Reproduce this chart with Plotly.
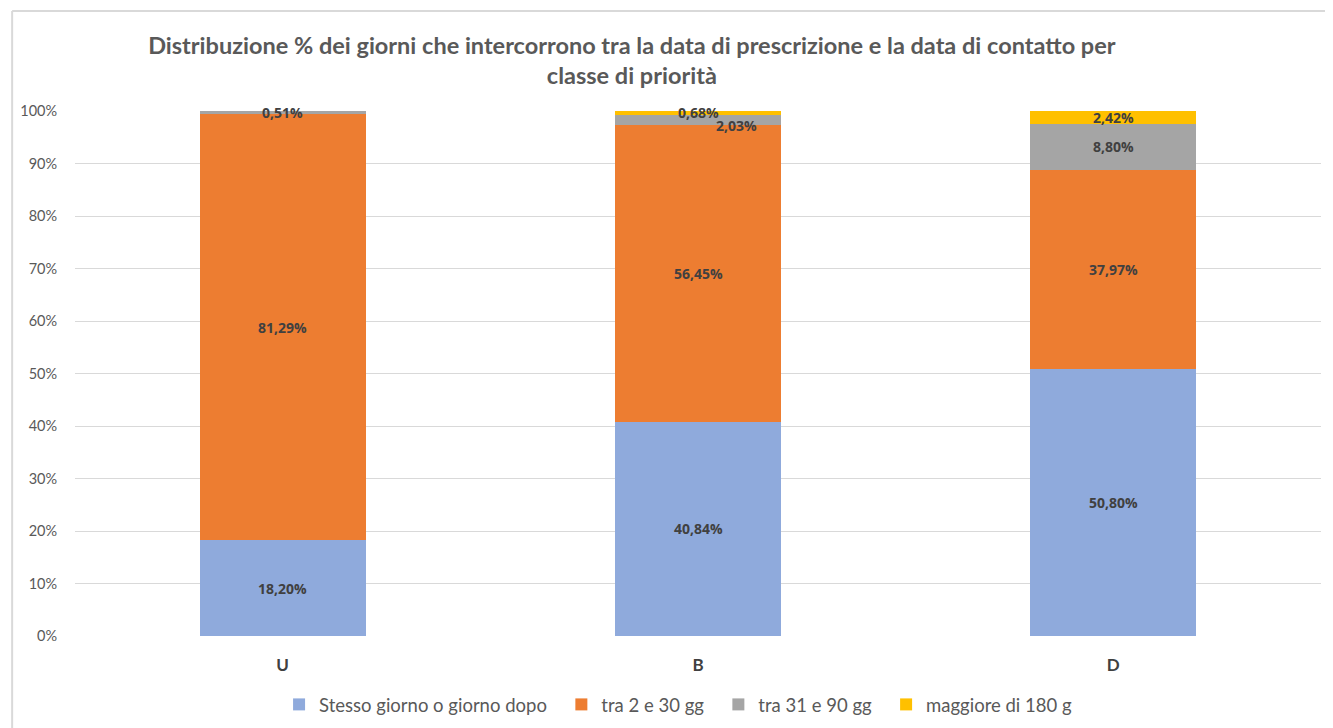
import plotly.graph_objects as go

categories = ["U", "B", "D"]
series_names = ["Stesso giorno o giorno dopo", "tra 2 e 30 gg", "tra 31 e 90 gg", "maggiore di 180 g"]
stesso = [18.20, 40.84, 50.80]
tra_2_30 = [81.29, 56.45, 37.97]
tra_31_90 = [0.51, 2.03, 8.80]
magg_180 = [0.0, 0.68, 2.42]
colors = ["#8FAADC", "#ED7D31", "#A5A5A5", "#FFC000"]
tick_vals = [0, 10, 20, 30, 40, 50, 60, 70, 80, 90, 100]

series = [stesso, tra_2_30, tra_31_90, magg_180]

def fmt(v):
    return f"{v:.2f}".replace(".", ",") + "%"

fig = go.Figure()
for i, (name, vals, col) in enumerate(zip(series_names, series, colors)):
    pad = "\u00a0\u00a0" if i < len(series_names) - 1 else ""
    fig.add_trace(go.Bar(
        x=categories, y=vals, name=name + pad, marker_color=col,
        marker_line_width=0, width=0.4, hoverinfo="skip",
    ))

# data labels at segment centres
font_lbl = dict(family="Open Sans, sans-serif", size=14, color="#404040")
base = [0.0, 0.0, 0.0]
for si, vals in enumerate(series):
    for ci, v in enumerate(vals):
        if v > 0:
            xs, ys = 0, 0
            if categories[ci] == "B" and si == 2:
                xs, ys = 38, -6
            fig.add_annotation(x=categories[ci], y=base[ci] + v / 2, text="<b>" + fmt(v) + "</b>",
                               showarrow=False, font=font_lbl, xshift=xs, yshift=ys)
        base[ci] += v

ML, MR, MT, MB = 64, 20, 103, 100
W, H = 1333, 728
PW, PH = W - ML - MR, H - MT - MB

fig.update_layout(
    barmode="stack",
    width=W, height=H,
    paper_bgcolor="white", plot_bgcolor="white",
    margin=dict(l=ML, r=MR, t=MT, b=MB),
    title=dict(
        text="<b>Distribuzione % dei giorni che intercorrono tra la data di prescrizione e la data di contatto per<br>classe di priorità</b>",
        x=0.468, xanchor="center", y=0.937, yanchor="top",
        font=dict(family="Lato, Open Sans, sans-serif", size=23.5, color="#595959"),
    ),
    legend=dict(orientation="h", x=0.484, xanchor="center", y=-0.095, yanchor="top",
                font=dict(family="Lato, Open Sans, sans-serif", size=18.5, color="#595959"),
                itemwidth=30, traceorder="normal"),
    showlegend=True,
)
fig.update_yaxes(range=[0, 100], tickvals=tick_vals, ticktext=[f"{t}%" for t in tick_vals],
                 showgrid=True, gridcolor="#D9D9D9", gridwidth=1, zeroline=False,
                 ticks="outside", ticklen=14, tickcolor="rgba(0,0,0,0)",
                 tickfont=dict(family="Lato, Open Sans, sans-serif", size=14.5, color="#595959"))
fig.update_xaxes(showline=False, tickfont=dict(family="Lato, Open Sans, sans-serif", size=17, color="#404040"),
                 ticks="outside", ticklen=14, tickcolor="rgba(0,0,0,0)",
                 tickvals=categories, ticktext=[f"<b>{c}</b>" for c in categories])

# outer chart frame (top and left edges)
fx = (1 - ML) / PW
fy = 1 + (MT - 3) / PH
fig.add_shape(type="line", xref="paper", yref="paper", x0=fx, x1=1 + MR / PW, y0=fy, y1=fy,
              line=dict(color="#D9D9D9", width=2))
fig.add_shape(type="line", xref="paper", yref="paper", x0=fx, x1=fx, y0=fy, y1=-MB / PH,
              line=dict(color="#D9D9D9", width=2))

fig.write_html("out.html")
